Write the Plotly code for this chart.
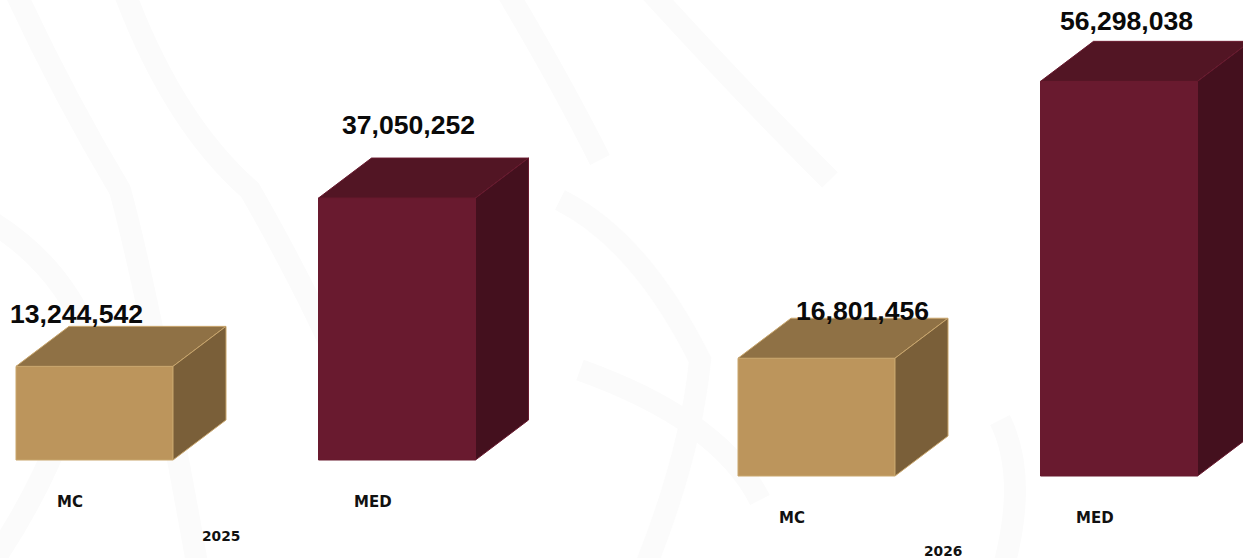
import plotly.graph_objects as go

# ---- data ----
years = ["2025", "2026"]
categories = ["MC", "MED"]
values_2025 = [13244542, 37050252]
values_2026 = [16801456, 56298038]
value_labels_2025 = ["13,244,542", "37,050,252"]
value_labels_2026 = ["16,801,456", "56,298,038"]

# ---- styling / geometry ----
W, H = 1243, 558
PX_PER_CAT = 302.5
BAR_W = 157 / PX_PER_CAT
DX = 53 / PX_PER_CAT
DEPTH_PX = 40
SPLIT = 620
STYLES = {
    "MC": dict(front="#BC955C", top="#8F7145", side="#7A5F39", edge="#C9A66D"),
    "MED": dict(front="#691A2F", top="#521524", side="#44101E", edge="#691A2F"),
}
LABEL_SHIFT = {
    "2025": [(-18, 52), (11, 73)],
    "2026": [(46, 47), (7, 60)],
}
panels = [
    dict(year="2025", vals=values_2025, labels=value_labels_2025, xa="x", ya="y", scale=7.07e-6,
         origin=94.5, base=460, dom=[0, SPLIT / W], left=0, right=SPLIT, year_shift=-76),
    dict(year="2026", vals=values_2026, labels=value_labels_2026, xa="x2", ya="y2", scale=7.01e-6,
         origin=816.5, base=476, dom=[SPLIT / W, 1], left=SPLIT, right=W, year_shift=-75),
]

fig = go.Figure()
annotations = []
layout_axes = {}
for p in panels:
    suffix = p["xa"][1:]
    DY = DEPTH_PX / p["scale"]
    layout_axes["xaxis" + suffix] = dict(
        domain=p["dom"], visible=False, fixedrange=True,
        range=[(p["left"] - p["origin"]) / PX_PER_CAT, (p["right"] - p["origin"]) / PX_PER_CAT],
        anchor=p["ya"],
    )
    layout_axes["yaxis" + suffix] = dict(
        domain=[0, 1], visible=False, fixedrange=True,
        range=[-(H - p["base"]) / p["scale"], p["base"] / p["scale"]],
        anchor=p["xa"],
    )
    for i, (cat, v) in enumerate(zip(categories, p["vals"])):
        s = STYLES[cat]
        x0, x1 = i - BAR_W / 2, i + BAR_W / 2
        # front face
        fig.add_trace(go.Bar(
            x=[i], y=[v], width=[BAR_W], xaxis=p["xa"], yaxis=p["ya"],
            marker=dict(color=s["front"], line=dict(color=s["edge"], width=1)),
            showlegend=False, hoverinfo="skip",
        ))
        # top face
        fig.add_trace(go.Scatter(
            x=[x0, x1, x1 + DX, x0 + DX, x0], y=[v, v, v + DY, v + DY, v],
            mode="lines", fill="toself", fillcolor=s["top"],
            line=dict(color=s["edge"], width=1),
            xaxis=p["xa"], yaxis=p["ya"], showlegend=False, hoverinfo="skip",
        ))
        # side face
        fig.add_trace(go.Scatter(
            x=[x1, x1 + DX, x1 + DX, x1, x1], y=[0, DY, v + DY, v, 0],
            mode="lines", fill="toself", fillcolor=s["side"],
            line=dict(color=s["edge"], width=1),
            xaxis=p["xa"], yaxis=p["ya"], showlegend=False, hoverinfo="skip",
        ))
        sx, sy = LABEL_SHIFT[p["year"]][i]
        annotations.append(dict(
            x=i, y=v, xref=p["xa"], yref=p["ya"], text=p["labels"][i], showarrow=False,
            xanchor="center", yanchor="middle", xshift=sx, yshift=sy,
            font=dict(family="Liberation Sans", size=26.6, color="#0a0a0a", weight=700),
        ))
        annotations.append(dict(
            x=i, y=0, xref=p["xa"], yref=p["ya"], text=cat, showarrow=False,
            xanchor="center", yanchor="middle", xshift=-24.5, yshift=-42,
            font=dict(family="DejaVu Sans", size=15, color="#111111", weight=700),
        ))
    annotations.append(dict(
        x=0.5, y=0, xref=p["xa"], yref=p["ya"], text=p["year"], showarrow=False,
        xanchor="center", yanchor="middle", xshift=-25, yshift=p["year_shift"],
        font=dict(family="DejaVu Sans", size=13.8, color="#111111", weight=700),
    ))


# faint decorative watermark behind the chart
def P(x, y):
    return f"{x / W:.4f} {1 - y / H:.4f}"


swirls = [
    [(120, -20), (170, 120), (250, 190), (330, 330), (370, 440)],
    [(10, -20), (60, 90), (120, 190), (150, 300), (200, 580)],
    [(-20, 215), (60, 260), (90, 340), (60, 470), (-20, 580)],
    [(560, 200), (640, 240), (700, 360), (690, 460), (640, 580)],
    [(580, 370), (720, 420), (760, 500), (770, 580)],
    [(640, -20), (740, 90), (830, 180), (880, 270)],
    [(1000, 420), (1030, 480), (1000, 580)],
    [(500, -20), (560, 80), (600, 160)],
]
shapes = []
for pts in swirls:
    path = "M " + P(*pts[0])
    for k in range(1, len(pts) - 1, 2):
        path += " Q " + P(*pts[k]) + " " + P(*pts[k + 1])
    shapes.append(dict(type="path", xref="paper", yref="paper", path=path,
                       line=dict(color="#FBFBFB", width=22), layer="below"))

fig.update_layout(
    width=W, height=H, autosize=False,
    margin=dict(l=0, r=0, t=0, b=0),
    paper_bgcolor="#FFFFFF", plot_bgcolor="rgba(0,0,0,0)",
    showlegend=False, barmode="overlay",
    annotations=annotations, shapes=shapes,
    **layout_axes,
)
fig.write_html("out.html", config={"displayModeBar": False},
               post_script="document.body.style.margin='0';document.documentElement.style.overflow='hidden';")
